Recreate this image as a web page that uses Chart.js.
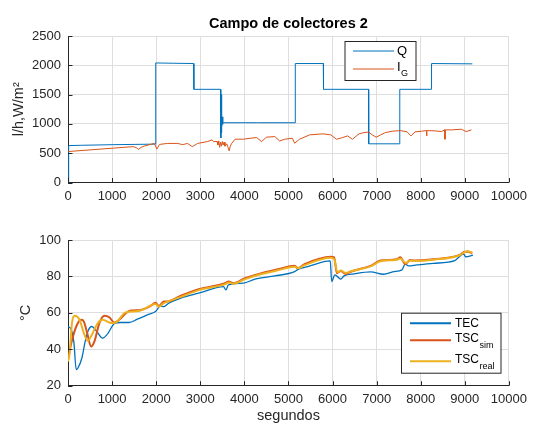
<!DOCTYPE html>
<html>
<head>
<meta charset="utf-8">
<script src="https://cdn.jsdelivr.net/npm/chart.js@4.4.0/dist/chart.umd.min.js"></script>
<style>
  body { margin: 0; background: #fff; }
  #wrap { position: relative; width: 533px; height: 426px; }
  canvas { position: absolute; left: 0; }
</style>
</head>
<body>
<div id="wrap">
  <canvas id="topChart" width="533" height="205" style="top:0"></canvas>
  <canvas id="bottomChart" width="533" height="221" style="top:205px"></canvas>
</div>
<script>
// ---- data ----
var xTicks = [0, 1000, 2000, 3000, 4000, 5000, 6000, 7000, 8000, 9000, 10000];

// top plot: caudal Q (l/h) and irradiancia I_G (W/m2)
var qTime = [0, 15, 300, 1000, 1500, 1985, 1990, 2400, 2850, 2855, 3460, 3466, 3472, 3478, 3484, 3490, 3498, 3506, 3515, 3530, 4300, 5150, 5155, 5790, 5795, 6815, 6820, 7520, 7525, 8240, 8245, 9170];
var qValues = [0, 630, 635, 645, 650, 655, 2040, 2035, 2030, 1590, 1590, 760, 1500, 850, 1300, 950, 1120, 990, 1040, 1020, 1020, 1020, 2030, 2030, 1590, 1590, 660, 660, 1590, 1590, 2030, 2025];

var igTime = [0, 1480, 1550, 1600, 1660, 1740, 1870, 1960, 2015, 2075, 2260, 2490, 2600, 2710, 2820, 2940, 3160, 3270, 3300, 3380, 3400, 3420, 3440, 3460, 3480, 3500, 3520, 3540, 3560, 3600, 3630, 3655, 3680, 3715, 3790, 3980, 4130, 4280, 4390, 4500, 4690, 4800, 4910, 5090, 5140, 5250, 5480, 5780, 5960, 6090, 6230, 6340, 6450, 6600, 6710, 6820, 6900, 6990, 7090, 7200, 7350, 7540, 7690, 7780, 7870, 8020, 8130, 8135, 8140, 8320, 8470, 8545, 8550, 8555, 8700, 8920, 9030, 9150];
var igValues = [528, 612, 595, 565, 600, 624, 650, 667, 570, 650, 667, 667, 645, 667, 612, 667, 698, 727, 698, 700, 640, 710, 600, 690, 620, 700, 640, 690, 620, 660, 600, 540, 620, 670, 739, 739, 755, 767, 698, 773, 784, 709, 738, 755, 670, 738, 813, 830, 813, 738, 767, 795, 738, 830, 852, 860, 813, 773, 813, 852, 875, 886, 864, 795, 864, 875, 886, 795, 886, 881, 869, 898, 738, 898, 898, 909, 869, 898];

// bottom plot: temperaturas (ºC)
var tecTime = [0, 75, 135, 187, 225, 315, 390, 450, 540, 637, 787, 899, 1049, 1199, 1386, 1573, 1798, 1985, 2097, 2172, 2285, 2547, 2966, 3528, 3580, 3640, 3978, 4240, 4689, 5139, 5214, 5438, 5948, 5980, 6052, 6112, 6187, 6262, 6487, 6861, 7161, 7386, 7573, 7648, 7723, 7910, 8285, 8772, 8921, 8974, 9019, 9184];
var tecValues = [52.5, 50.7, 43.4, 28.8, 29.7, 35.2, 44.3, 49.8, 52.5, 50.3, 46.1, 48.5, 54, 54.7, 54.7, 56.5, 58.9, 60.7, 63.8, 63.4, 65.3, 68, 70.8, 74.4, 72.6, 75.3, 76.3, 78.5, 80.3, 82.6, 83.9, 85.4, 88.5, 77.2, 80.8, 79.9, 78.5, 80.3, 81.4, 82.5, 81.2, 82.6, 83.6, 86.8, 85.8, 86.3, 87.2, 88.7, 91.8, 92.3, 90.8, 91.7];

var simTime = [0, 75, 187, 300, 360, 435, 525, 600, 712, 824, 937, 1049, 1161, 1311, 1423, 1648, 1873, 1985, 2060, 2172, 2247, 2547, 2966, 3566, 3640, 3753, 4015, 4390, 4764, 5139, 5214, 5364, 5963, 6037, 6097, 6187, 6300, 6412, 6861, 7086, 7461, 7536, 7648, 7760, 7850, 8285, 8884, 8996, 9071, 9169];
var simValues = [34.2, 43.4, 52.5, 56.2, 55.2, 48.9, 41.5, 44.3, 54.4, 58.4, 57.6, 54.7, 56.2, 59.8, 61.3, 61.6, 63.8, 65.6, 63.8, 66.2, 66.2, 69.3, 73, 76.3, 77.2, 76.3, 79, 81.8, 83.9, 85.8, 84.5, 86.7, 90.8, 90.5, 81.8, 83, 81.4, 82.6, 85.8, 88.7, 89.4, 90.5, 86.8, 89, 88.7, 89.4, 91.8, 93.6, 93.6, 92.7];

var realTime = [0, 37, 90, 150, 262, 360, 450, 540, 675, 787, 974, 1086, 1273, 1423, 1648, 1985, 2060, 2172, 2547, 2966, 3566, 3640, 3753, 4015, 4390, 4764, 5139, 5214, 5364, 5963, 6037, 6110, 6187, 6300, 6412, 6861, 7086, 7461, 7536, 7660, 7760, 7850, 8285, 8884, 8996, 9071, 9169];
var realValues = [33.3, 37.9, 54.4, 58.4, 56.2, 48.9, 44.7, 47.9, 54.4, 56.2, 54.4, 54.7, 59.8, 60.7, 61.3, 64.9, 63.4, 65.3, 68.6, 72.5, 75.8, 76.7, 76, 78.5, 81.3, 83.4, 85.3, 84.5, 86.2, 90.2, 89.5, 82.3, 83.2, 81.9, 82.8, 85.5, 88.3, 89.2, 89.9, 87.4, 88.8, 88.5, 89.2, 91.6, 93.3, 93.8, 93];

var FONT = 'Liberation Sans, Arial, sans-serif';
var AXIS = '#262626';
var GRID = '#dedede';

function pairs(xs, ys) {
    return xs.map(function (x, i) { return { x: x, y: ys[i] }; });
}

function plain(v) { return String(v); }

// MATLAB style ticks drawn inward from the axis lines
var inwardTicks = {
    id: 'inwardTicks',
    afterDatasetsDraw: function (chart) {
        var ctx = chart.ctx;
        var xs = chart.scales.x, ys = chart.scales.y;
        var area = chart.chartArea;
        ctx.save();
        ctx.strokeStyle = AXIS;
        ctx.lineWidth = 1;
        ctx.beginPath();
        xs.ticks.forEach(function (t) {
            var px = Math.round(xs.getPixelForValue(t.value)) + 0.5;
            ctx.moveTo(px, area.bottom);
            ctx.lineTo(px, area.bottom - 4.5);
        });
        ys.ticks.forEach(function (t) {
            var py = Math.round(ys.getPixelForValue(t.value)) + 0.5;
            ctx.moveTo(area.left, py);
            ctx.lineTo(area.left + 4.5, py);
        });
        ctx.stroke();
        ctx.restore();
    }
};

// boxed legend with subscripts (label text "TSC_sim" -> TSC + sim)
var boxLegend = {
    id: 'boxLegend',
    afterDraw: function (chart, args, o) {
        var ctx = chart.ctx;
        ctx.save();
        ctx.fillStyle = '#fff';
        ctx.fillRect(o.x, o.y, o.w, o.h);
        ctx.strokeStyle = AXIS;
        ctx.lineWidth = 1;
        ctx.strokeRect(o.x + 0.5, o.y + 0.5, o.w, o.h);
        chart.data.datasets.forEach(function (ds, i) {
            var y = o.y + o.rows[i];
            ctx.strokeStyle = ds.borderColor;
            ctx.lineWidth = o.lineWidth;
            ctx.beginPath();
            ctx.moveTo(o.x + o.lineStart, y);
            ctx.lineTo(o.x + o.lineEnd, y);
            ctx.stroke();
            var parts = ds.label.split('_');
            ctx.fillStyle = '#000';
            ctx.textBaseline = 'middle';
            ctx.textAlign = 'left';
            ctx.font = o.size + 'px ' + FONT;
            var tx = o.x + o.textStart;
            var ty = parts.length > 1 ? y - 2 : y;
            ctx.fillText(parts[0], tx, ty);
            if (parts.length > 1) {
                var w = ctx.measureText(parts[0]).width;
                ctx.font = o.subSize + 'px ' + FONT;
                ctx.fillText(parts[1], tx + w + 0.5, y + 5);
            }
        });
        ctx.restore();
    }
};

function xAxis(height, title) {
    return {
        type: 'linear', min: 0, max: 10000,
        afterBuildTicks: function (s) { s.ticks = xTicks.map(function (v) { return { value: v }; }); },
        ticks: { color: AXIS, font: { family: FONT, size: 13 }, padding: 6, autoSkip: false, maxRotation: 0, callback: plain },
        grid: { color: GRID, drawTicks: false },
        border: { color: AXIS },
        title: title ? { display: true, text: title, color: AXIS, font: { family: FONT, size: 14.5 }, padding: { top: 0, bottom: 1.5 } } : { display: false },
        afterFit: function (s) { s.height = height; }
    };
}

function yAxis(min, max, step, title, pad) {
    return {
        min: min, max: max,
        ticks: { stepSize: step, color: AXIS, font: { family: FONT, size: 13 }, padding: 7, callback: plain },
        grid: { color: GRID, drawTicks: false },
        border: { color: AXIS },
        title: { display: true, text: title, color: AXIS, font: { family: FONT, size: 14.5 }, padding: { top: pad, bottom: 0 } },
        afterFit: function (s) { s.width = 68; }
    };
}

new Chart(document.getElementById('topChart'), {
    type: 'line',
    data: {
        datasets: [
            { label: 'Q', data: pairs(qTime, qValues), borderColor: '#0072BD', borderWidth: 1, pointRadius: 0, order: 1 },
            { label: 'I_G', data: pairs(igTime, igValues), borderColor: '#D95319', borderWidth: 1, pointRadius: 0, order: 0 }
        ]
    },
    options: {
        responsive: false, animation: false,
        layout: { padding: { left: 0, right: 20, top: 0, bottom: 0 } },
        scales: { x: xAxis(22.5, null), y: yAxis(0, 2500, 500, 'l/h,W/m²', 10.3) },
        plugins: {
            legend: { display: false },
            tooltip: { enabled: false },
            title: {
                display: true, text: 'Campo de colectores 2', fullSize: false, color: '#000',
                font: { family: FONT, size: 14.5, weight: 'bold' }, padding: { top: 15, bottom: 3.6 }
            },
            boxLegend: { x: 344.5, y: 41, w: 71, h: 39, rows: [10, 28], lineStart: 8.5, lineEnd: 49.5, textStart: 52.5, lineWidth: 1, size: 13, subSize: 9 }
        }
    },
    plugins: [inwardTicks, boxLegend]
});

new Chart(document.getElementById('bottomChart'), {
    type: 'line',
    data: {
        datasets: [
            { label: 'TEC', data: pairs(tecTime, tecValues), borderColor: '#0072BD', borderWidth: 1.3, pointRadius: 0, cubicInterpolationMode: 'monotone', order: 2 },
            { label: 'TSC_sim', data: pairs(simTime, simValues), borderColor: '#D95319', borderWidth: 2, pointRadius: 0, cubicInterpolationMode: 'monotone', order: 1 },
            { label: 'TSC_real', data: pairs(realTime, realValues), borderColor: '#EDB120', borderWidth: 2, pointRadius: 0, cubicInterpolationMode: 'monotone', order: 0 }
        ]
    },
    options: {
        responsive: false, animation: false,
        layout: { padding: { left: 0, right: 20, top: 35, bottom: 0 } },
        scales: { x: xAxis(40.3, 'segundos'), y: yAxis(20, 100, 20, '°C', 16.8) },
        plugins: {
            legend: { display: false },
            tooltip: { enabled: false },
            boxLegend: { x: 401, y: 107.7, w: 99.5, h: 60, rows: [10.6, 27.5, 48.5], lineStart: 9, lineEnd: 50, textStart: 54, lineWidth: 2, size: 12, subSize: 9 }
        }
    },
    plugins: [inwardTicks, boxLegend]
});
</script>
</body>
</html>
